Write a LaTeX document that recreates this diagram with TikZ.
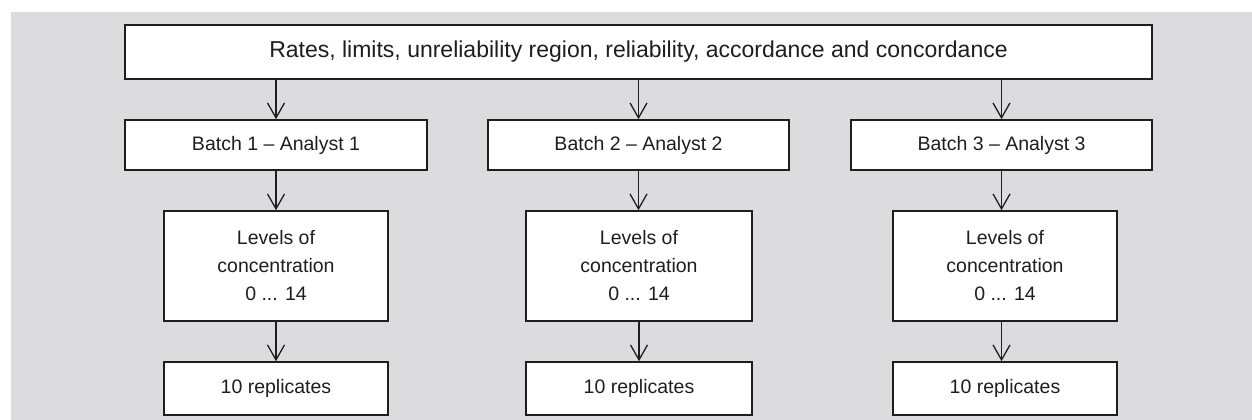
\documentclass[tikz,border=0pt]{standalone}
\usepackage{fontspec}
\setmainfont{Liberation Sans}
\usetikzlibrary{arrows.meta}
\definecolor{bggray}{HTML}{DCDCDE}
\definecolor{ink}{HTML}{1E1E1E}
\tikzset{
  box/.style={draw=ink, line width=1.6pt, fill=white, align=center, inner sep=0pt,
    font=\fontsize{19.5}{28}\selectfont, text=ink},
  conn/.style={draw=ink, line width=1.3pt, -{Straight Barb[length=15pt, width=17pt, line width=1.3pt]}}
}
\begin{document}
\begin{tikzpicture}[x=1pt, y=-1pt]
\useasboundingbox (0,0) rectangle (1252,420);
\fill[white] (0,0) rectangle (1252,420);
\fill[bggray] (11,12) rectangle (1252,420);

\node[box, minimum width=1027pt, minimum height=54pt, font=\fontsize{23}{28}\selectfont] (top) at (638.5,52)
  {Rates, limits, unreliability region, reliability, accordance and concordance};

\node[box, minimum width=302pt, minimum height=50pt] (b1) at (276,145) {Batch 1 – Analyst 1};
\node[box, minimum width=301pt, minimum height=50pt] (b2) at (638.5,145) {Batch 2 – Analyst 2};
\node[box, minimum width=301pt, minimum height=50pt] (b3) at (1001.5,145) {Batch 3 – Analyst 3};

\node[box, minimum width=224pt, minimum height=110pt] (l1) at (276,266) {Levels of\\concentration\\0 ... 14};
\node[box, minimum width=226pt, minimum height=110pt] (l2) at (639,266) {Levels of\\concentration\\0 ... 14};
\node[box, minimum width=224pt, minimum height=110pt] (l3) at (1005,266) {Levels of\\concentration\\0 ... 14};

\node[box, minimum width=224pt, minimum height=53pt] (r1) at (276,388.5) {10 replicates};
\node[box, minimum width=226pt, minimum height=53pt] (r2) at (639,388.5) {10 replicates};
\node[box, minimum width=224pt, minimum height=53pt] (r3) at (1005,388.5) {10 replicates};

\draw[conn] (b1.north |- top.south) -- (b1.north);
\draw[conn] (b2.north |- top.south) -- (b2.north);
\draw[conn] (b3.north |- top.south) -- (b3.north);

\draw[conn] (b1.south) -- (b1.south |- l1.north);
\draw[conn] (b2.south) -- (b2.south |- l2.north);
\draw[conn] (b3.south) -- (b3.south |- l3.north);

\draw[conn] (l1.south) -- (r1.north);
\draw[conn] (l2.south) -- (r2.north);
\draw[conn] (l3.south -| b3.south) -- (b3.south |- r3.north);
\end{tikzpicture}
\end{document}
